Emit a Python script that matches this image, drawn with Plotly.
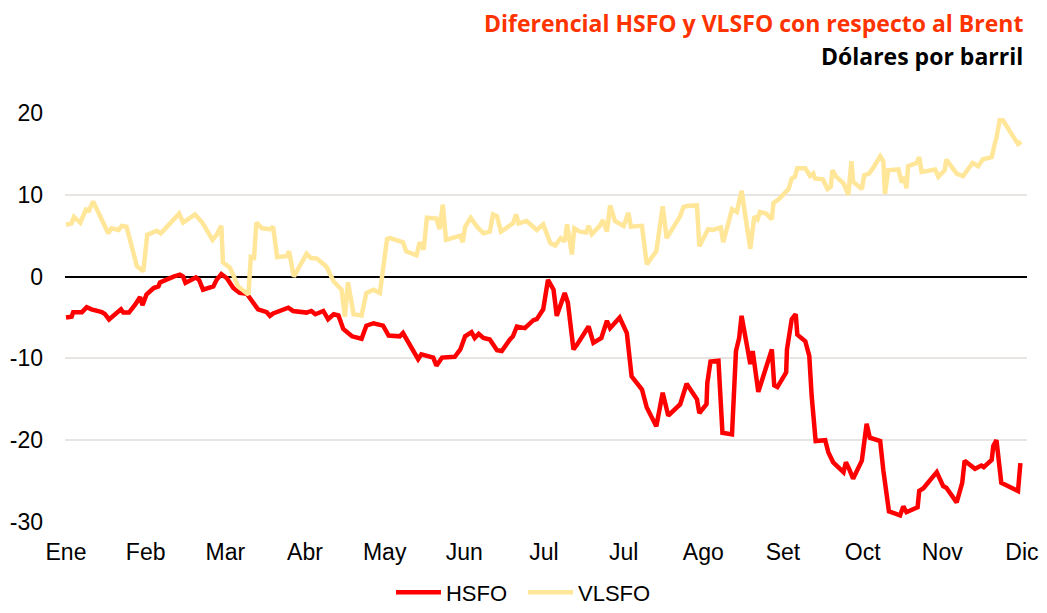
import plotly.graph_objects as go

# Month tick labels (as in the original, "Jul" appears twice)
month_labels = ["Ene", "Feb", "Mar", "Abr", "May", "Jun", "Jul", "Jul", "Ago", "Set", "Oct", "Nov", "Dic"]
month_pos = list(range(len(month_labels)))

# HSFO differential vs Brent (USD/bbl); x in months from start of year
hsfo_x = [0.00, 0.07, 0.09, 0.20, 0.26, 0.32, 0.45, 0.49, 0.54, 0.59, 0.69, 0.72, 0.79, 0.87, 0.93, 0.96,
          1.01, 1.10, 1.16, 1.18, 1.26, 1.35, 1.43, 1.47, 1.50, 1.56, 1.63, 1.67, 1.72, 1.85, 1.89, 1.95,
          2.02, 2.10, 2.18, 2.27, 2.33, 2.41, 2.52, 2.56, 2.60, 2.79, 2.85, 3.02, 3.08, 3.13, 3.23, 3.29,
          3.36, 3.42, 3.48, 3.59, 3.71, 3.77, 3.86, 3.98, 4.05, 4.19, 4.23, 4.30, 4.42, 4.46, 4.61, 4.65,
          4.72, 4.88, 4.95, 5.01, 5.09, 5.13, 5.18, 5.24, 5.32, 5.41, 5.47, 5.57, 5.61, 5.66, 5.76, 5.87,
          5.91, 5.99, 6.05, 6.12, 6.16, 6.26, 6.30, 6.37, 6.41, 6.56, 6.62, 6.72, 6.79, 6.83, 6.95, 7.04,
          7.10, 7.23, 7.29, 7.41, 7.49, 7.56, 7.71, 7.79, 7.92, 7.95, 8.04, 8.05, 8.09, 8.19, 8.24, 8.36,
          8.41, 8.45, 8.48, 8.59, 8.62, 8.69, 8.82, 8.86, 8.89, 8.93, 9.04, 9.05, 9.11, 9.16, 9.18, 9.28,
          9.33, 9.36, 9.41, 9.53, 9.57, 9.63, 9.76, 9.79, 9.83, 9.88, 9.99, 10.05, 10.09, 10.22, 10.26,
          10.33, 10.47, 10.51, 10.55, 10.69, 10.71, 10.76, 10.93, 11.01, 11.05, 11.18, 11.25, 11.28,
          11.41, 11.49, 11.52, 11.62, 11.64, 11.68, 11.74, 11.95, 11.98]
hsfo_y = [-5.0, -4.9, -4.35, -4.35, -3.74, -4.0, -4.35, -4.6, -5.24, -4.8, -4.0, -4.4, -4.4, -3.4, -2.5, -3.5,
          -2.2, -1.4, -1.2, -0.7, -0.3, 0.0, 0.24, 0.0, -0.77, -0.5, -0.1, -0.4, -1.6, -1.2, -0.4, 0.3,
          -0.2, -1.4, -2.0, -2.1, -3.0, -4.0, -4.35, -4.8, -4.5, -3.8, -4.2, -4.4, -4.2, -4.6, -4.2, -5.2,
          -4.6, -4.75, -6.4, -7.3, -7.6, -6.0, -5.7, -6.0, -7.2, -7.3, -6.9, -8.1, -10.1, -9.5, -9.9, -10.9,
          -9.9, -9.8, -8.9, -7.3, -6.8, -7.5, -7.0, -7.5, -7.7, -9.0, -9.1, -7.7, -7.3, -6.1, -6.3, -5.3,
          -5.2, -4.0, -0.4, -1.6, -4.8, -2.0, -3.2, -8.9, -8.4, -6.1, -8.1, -7.5, -5.4, -6.3, -5.0, -6.9,
          -12.2, -13.8, -16.0, -18.3, -14.2, -17.0, -15.6, -13.1, -15.0, -16.7, -15.6, -13.0, -10.4, -10.3, -19.1, -19.3,
          -9.1, -7.5, -4.8, -10.7, -9.1, -14.1, -10.3, -8.9, -13.3, -13.5, -11.7, -8.9, -5.2, -4.6, -7.1, -7.9,
          -9.7, -14.6, -20.1, -20.0, -21.5, -22.7, -23.9, -22.7, -23.5, -24.7, -22.5, -18.0, -19.7, -20.1, -23.7,
          -28.7, -29.2, -28.1, -28.8, -28.2, -26.2, -25.9, -23.9, -25.6, -25.8, -27.6, -25.2, -22.5,
          -23.5, -23.1, -23.3, -22.4, -20.7, -20.0, -25.2, -26.2, -22.8]

# VLSFO differential vs Brent (USD/bbl)
vlsfo_x = [0.00, 0.07, 0.10, 0.18, 0.25, 0.29, 0.34, 0.43, 0.53, 0.57, 0.66, 0.70, 0.76, 0.89, 0.97,
           1.02, 1.14, 1.19, 1.28, 1.42, 1.47, 1.62, 1.71, 1.77, 1.84, 1.89, 1.95, 1.97, 2.06, 2.16, 2.29,
           2.32, 2.36, 2.39, 2.46, 2.56, 2.60, 2.65, 2.77, 2.80, 2.86, 3.02, 3.07, 3.15, 3.27, 3.36, 3.46,
           3.50, 3.54, 3.61, 3.71, 3.77, 3.86, 3.94, 4.03, 4.07, 4.23, 4.27, 4.40, 4.44, 4.49, 4.53, 4.65,
           4.69, 4.73, 4.77, 4.95, 4.98, 5.01, 5.08, 5.16, 5.24, 5.32, 5.36, 5.41, 5.46, 5.53, 5.61, 5.65,
           5.68, 5.78, 5.91, 5.99, 6.08, 6.14, 6.21, 6.26, 6.29, 6.35, 6.38, 6.45, 6.53, 6.56, 6.60, 6.70,
           6.74, 6.79, 6.83, 6.89, 7.00, 7.06, 7.09, 7.23, 7.29, 7.41, 7.43, 7.49, 7.54, 7.62, 7.71, 7.75,
           7.81, 7.92, 7.95, 8.06, 8.12, 8.22, 8.25, 8.36, 8.42, 8.48, 8.59, 8.64, 8.68, 8.71, 8.79, 8.86,
           8.88, 8.94, 9.04, 9.07, 9.11, 9.15, 9.18, 9.28, 9.34, 9.38, 9.40, 9.50, 9.56, 9.60, 9.62, 9.67,
           9.76, 9.82, 9.86, 9.88, 9.99, 10.02, 10.08, 10.13, 10.22, 10.26, 10.28, 10.32, 10.45, 10.49,
           10.52, 10.55, 10.57, 10.68, 10.71, 10.74, 10.91, 10.95, 11.03, 11.05, 11.18, 11.26, 11.38,
           11.45, 11.51, 11.62, 11.66, 11.68, 11.72, 11.76, 11.95, 11.99]
vlsfo_y = [6.34, 6.5, 7.3, 6.6, 8.2, 8.1, 9.2, 7.4, 5.3, 5.9, 5.7, 6.2, 6.1, 1.26, 0.65,
           5.1, 5.6, 5.3, 6.3, 7.7, 6.6, 7.6, 6.6, 5.5, 4.5, 5.1, 6.2, 1.75, 1.06, -1.2, -2.2,
           2.4, 2.3, 6.6, 5.9, 5.8, 6.1, 2.4, 2.5, 3.1, 0.0, 2.8, 2.3, 2.2, 1.2, -0.6, -1.6,
           -4.9, -0.7, -4.6, -4.75, -2.0, -1.6, -2.0, 4.6, 4.7, 4.2, 3.1, 2.6, 4.2, 3.3, 7.2, 7.1,
           5.8, 8.8, 4.5, 5.0, 4.2, 6.1, 7.2, 6.1, 5.3, 5.5, 7.6, 7.4, 5.5, 6.0, 6.5, 7.6,
           6.5, 6.8, 5.7, 6.4, 4.1, 3.8, 4.7, 4.3, 6.4, 2.7, 5.9, 5.5, 5.4, 6.2, 5.2, 6.2,
           6.9, 5.5, 8.7, 6.8, 6.2, 7.8, 6.1, 6.2, 1.5, 3.1, 4.5, 8.6, 4.7, 6.0, 7.4, 8.5,
           8.65, 8.7, 3.7, 5.8, 5.7, 6.0, 4.2, 8.25, 7.9, 10.5, 3.4, 7.35, 7.0, 7.9, 7.7, 7.0,
           9.0, 9.4, 10.5, 10.7, 12.0, 12.2, 13.25, 13.25, 12.3, 12.6, 12.0, 11.9, 10.7, 11.0, 13.0, 12.2,
           11.4, 10.0, 14.1, 11.6, 10.7, 12.4, 12.6, 13.25, 14.7, 14.1, 10.1, 13.0, 13.1, 11.5,
           12.2, 10.8, 13.5, 13.9, 14.6, 12.8, 13.1, 12.2, 13.0, 14.3, 12.6, 12.3, 13.9,
           13.5, 14.35, 14.6, 16.3, 17.0, 19.1, 19.1, 16.2, 16.5]

y_ticks = [-30, -20, -10, 0, 10, 20]
y_tick_labels = ["-30", "-20", "-10", "0", "10", "20"]

tick_font = dict(family="Liberation Sans, Arial, sans-serif", size=23, color="#000000")

fig = go.Figure()
fig.add_trace(go.Scatter(x=hsfo_x, y=hsfo_y, mode="lines", name="HSFO",
                         line=dict(color="#FF0000", width=4.5)))
fig.add_trace(go.Scatter(x=vlsfo_x, y=vlsfo_y, mode="lines", name="VLSFO",
                         line=dict(color="#FFE699", width=4.5)))

# The page body adds an 8px margin, so the figure is sized to fit inside the window.
fig.update_layout(
    template="none",
    width=1031, height=597,
    margin=dict(l=57, r=12, t=105, b=82.5, autoexpand=False),
    paper_bgcolor="white", plot_bgcolor="white",
    showlegend=True,
    legend=dict(orientation="h", xref="container", yref="container",
                x=0.4995, xanchor="center", y=0.021, yanchor="middle",
                font=dict(family="Liberation Sans, Arial, sans-serif", size=22, color="#000000"),
                itemwidth=45, entrywidth=72, entrywidthmode="pixels",
                tracegroupgap=0, bgcolor="rgba(0,0,0,0)", borderwidth=0),
    xaxis=dict(range=[-0.0126, 12.063], tickmode="array", tickvals=month_pos, ticktext=month_labels,
               showgrid=False, zeroline=False, showline=False, ticks="", tickfont=tick_font,
               ticklabelstandoff=14, automargin=False),
    yaxis=dict(range=[-30, 20], tickmode="array", tickvals=y_ticks, ticktext=y_tick_labels, ticks="",
               showgrid=True, gridcolor="#E8E4E1", gridwidth=1.5,
               zeroline=True, zerolinecolor="#000000", zerolinewidth=2,
               showline=False, tickfont=tick_font, ticklabelstandoff=21, automargin=False),
    annotations=[
        dict(text="<b>Diferencial HSFO y VLSFO con respecto al Brent</b>", xref="paper", yref="paper",
             x=1.0, y=1.2198, xanchor="right", yanchor="middle", xshift=-2, showarrow=False,
             font=dict(family="Open Sans, sans-serif", size=23, color="#FF3300")),
        dict(text="<b>Dólares por barril</b>", xref="paper", yref="paper",
             x=1.0, y=1.1392, xanchor="right", yanchor="middle", xshift=-2, showarrow=False,
             font=dict(family="Open Sans, sans-serif", size=23, color="#000000")),
    ],
)

fig.write_html("out.html")
